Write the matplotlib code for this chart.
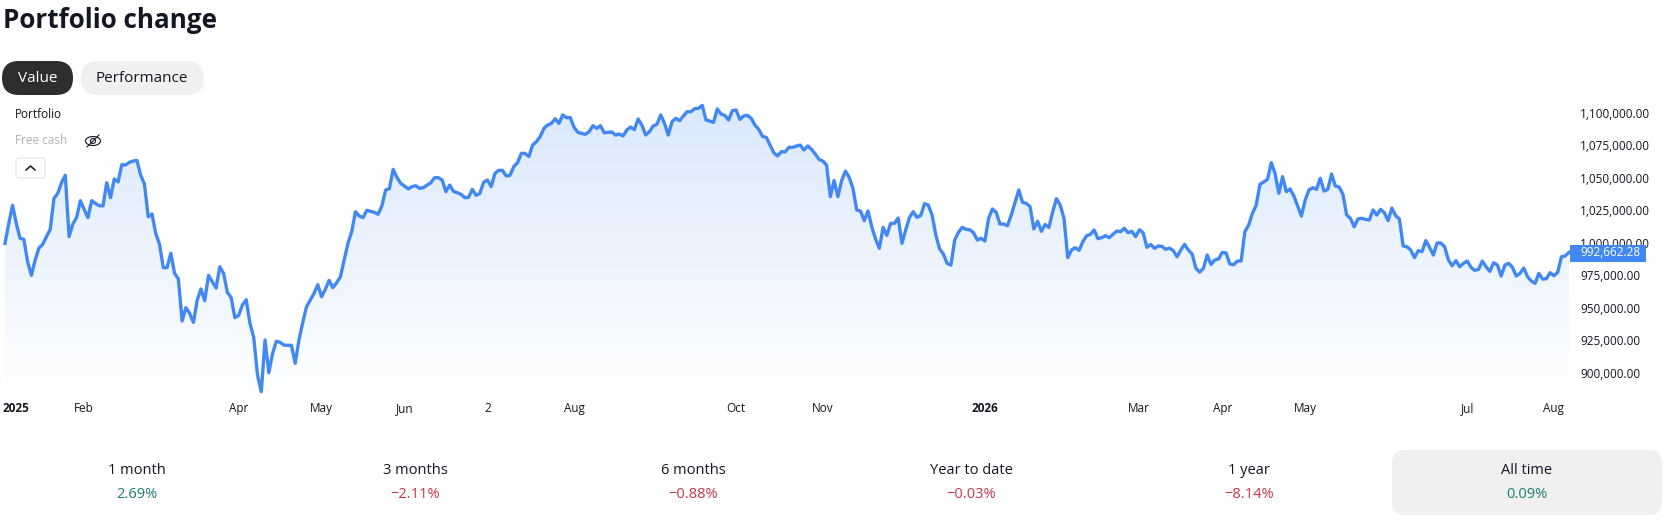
# portfolio value chart with the page bits around it
import numpy as np
import matplotlib
matplotlib.use('Agg')
import matplotlib.pyplot as plt
from matplotlib.patches import FancyBboxPatch, Ellipse

# portfolio value per bar, in thousands
portfolio_k = [
    999.6, 1015.0, 1028.9, 1015.0, 1003.5, 1002.7, 985.5, 975.0, 986.8, 996.0,
    998.9, 1004.8, 1010.4, 1034.3, 1038.1, 1046.3, 1052.0, 1004.8, 1014.5, 1019.6,
    1032.5, 1025.8, 1019.4, 1032.5, 1030.4, 1028.6, 1028.4, 1046.3, 1034.8, 1049.2,
    1046.9, 1060.2, 1059.9, 1062.0, 1063.0, 1063.5, 1052.2, 1045.3, 1020.1, 1022.2,
    1007.3, 998.9, 980.9, 980.9, 991.9, 976.5, 972.2, 939.8, 950.1, 945.7,
    938.8, 956.0, 964.5, 955.5, 975.0, 970.1, 965.2, 981.6, 976.5, 961.9,
    957.8, 942.4, 944.2, 952.1, 956.2, 938.0, 927.2, 898.2, 885.4, 925.2,
    900.0, 914.9, 924.2, 923.4, 921.3, 921.1, 921.1, 907.2, 925.2, 938.5,
    950.8, 956.0, 961.1, 967.8, 958.5, 964.2, 971.1, 965.5, 969.3, 973.9,
    986.8, 999.6, 1008.6, 1024.0, 1020.7, 1019.4, 1025.0, 1024.3, 1023.5, 1022.0,
    1028.4, 1040.7, 1041.7, 1056.6, 1050.4, 1045.8, 1043.8, 1041.5, 1043.3, 1044.0,
    1042.0, 1042.5, 1044.5, 1046.3, 1050.2, 1050.2, 1048.4, 1039.4, 1044.5, 1039.7,
    1038.6, 1037.4, 1034.8, 1035.0, 1041.2, 1036.6, 1038.1, 1046.6, 1048.4, 1043.3,
    1053.5, 1055.8, 1055.8, 1051.5, 1052.0, 1058.7, 1061.7, 1068.9, 1068.9, 1066.4,
    1075.3, 1077.9, 1081.8, 1088.2, 1090.7, 1092.0, 1095.6, 1092.0, 1098.5, 1096.4,
    1096.4, 1089.0, 1085.1, 1084.3, 1083.6, 1085.6, 1090.2, 1088.2, 1090.2, 1084.8,
    1085.1, 1085.4, 1083.0, 1083.8, 1082.3, 1086.9, 1089.2, 1087.2, 1095.4, 1090.7,
    1083.0, 1085.6, 1090.0, 1091.3, 1098.5, 1092.0, 1083.0, 1093.3, 1095.9, 1094.1,
    1097.7, 1101.0, 1101.0, 1103.3, 1103.6, 1105.9, 1094.6, 1093.8, 1092.8, 1103.1,
    1099.2, 1098.2, 1094.6, 1101.8, 1102.3, 1095.1, 1097.7, 1098.2, 1095.9, 1090.7,
    1087.4, 1082.0, 1081.2, 1075.3, 1069.4, 1066.9, 1070.2, 1070.0, 1073.5, 1073.5,
    1074.6, 1075.3, 1071.5, 1074.6, 1072.0, 1068.4, 1064.3, 1063.0, 1059.9, 1035.6,
    1047.9, 1035.6, 1047.9, 1055.3, 1050.4, 1042.0, 1025.3, 1024.5, 1017.1, 1024.5,
    1012.4, 1003.0, 995.8, 1011.9, 1005.8, 1015.0, 1015.0, 1019.1, 999.6, 1009.9,
    1019.6, 1024.0, 1019.6, 1021.2, 1030.2, 1029.1, 1021.4, 1006.0, 995.3, 991.4,
    984.2, 982.9, 1002.2, 1008.1, 1011.9, 1010.4, 1010.1, 1007.8, 1002.2, 1003.5,
    1001.4, 1018.9, 1026.1, 1023.5, 1014.5, 1014.5, 1013.2, 1021.4, 1031.2, 1040.7,
    1031.2, 1030.4, 1027.9, 1010.7, 1016.6, 1008.9, 1014.2, 1011.9, 1024.0, 1034.0,
    1029.1, 1018.9, 988.6, 994.5, 996.3, 994.2, 1000.9, 1005.5, 1006.5, 1009.9,
    1003.2, 1004.0, 1005.5, 1004.0, 1006.5, 1009.1, 1008.6, 1011.2, 1007.8, 1008.9,
    1004.8, 1010.1, 1007.8, 996.5, 998.8, 995.8, 997.6, 997.3, 995.0, 996.0,
    994.0, 989.3, 994.5, 998.8, 994.5, 991.4, 980.4, 977.5, 980.4, 990.6,
    983.4, 986.8, 987.6, 992.7, 992.2, 983.7, 983.2, 986.0, 986.0, 1008.6,
    1013.7, 1022.7, 1029.1, 1045.1, 1046.9, 1048.9, 1061.7, 1053.5, 1038.1, 1051.0,
    1039.4, 1041.5, 1036.1, 1028.4, 1020.7, 1033.0, 1040.7, 1042.5, 1041.2, 1049.7,
    1039.9, 1041.2, 1053.0, 1043.8, 1043.0, 1037.6, 1021.4, 1018.9, 1012.4, 1018.4,
    1018.9, 1018.1, 1017.6, 1025.3, 1021.4, 1025.8, 1023.2, 1017.1, 1026.8, 1020.9,
    1018.4, 997.6, 997.0, 994.5, 988.6, 994.0, 993.2, 1001.7, 996.5, 990.6,
    999.9, 999.9, 997.0, 986.8, 982.4, 986.3, 981.6, 984.2, 986.0, 981.1,
    978.8, 979.6, 986.0, 981.6, 978.1, 984.7, 982.9, 974.5, 982.9, 984.2,
    981.1, 974.5, 976.5, 980.6, 973.9, 970.6, 968.8, 976.5, 972.1, 972.4,
    977.0, 974.7, 977.3, 989.3, 989.9, 992.66,
]

x_ticks = [3, 21, 62, 84, 106, 128, 151, 194, 217, 260, 301, 323, 345, 388, 411]
x_labels = ['2025', 'Feb', 'Apr', 'May', 'Jun', '2', 'Aug', 'Oct', 'Nov', '2026',
            'Mar', 'Apr', 'May', 'Jul', 'Aug']
y_ticks = [900000, 925000, 950000, 975000, 1000000, 1025000, 1050000, 1075000, 1100000]

last_label = '992,662.28'

stat_names = ['1 month', '3 months', '6 months', 'Year to date', '1 year', 'All time']
stat_values = ['2.69%', '\u22122.11%', '\u22120.88%', '\u22120.03%', '\u22128.14%', '0.09%']

W, H = 1666, 519
BLUE = '#4288f3'
GREEN = '#1b7f72'
RED = '#c5364c'
DARK = '#131722'

plt.rcParams['font.family'] = ['Open Sans', 'DejaVu Sans']

values = np.array(portfolio_k) * 1000
bars = np.arange(len(values))

fig = plt.figure(figsize=(W / 100, H / 100), dpi=100, facecolor='white')


def px_axes(left, top, right, bottom):
    return fig.add_axes([left / W, 1 - bottom / H, (right - left) / W, (bottom - top) / H])


# main chart
ax = px_axes(5, 100, 1569, 400)
ax.patch.set_visible(False)
y_low, y_high = 879000, 1110000

# gradient under the line
grad = np.ones((256, 1, 4))
grad[:, 0, 0] = 0.855
grad[:, 0, 1] = 0.91
grad[:, 0, 2] = 0.992
mix = np.linspace(0, 1, 256)[:, None]
for c in range(3):
    grad[:, :, c] = grad[:, :, c] * (1 - mix) + mix
im = ax.imshow(grad, aspect='auto', extent=[0, len(values) - 1, y_low, y_high],
               origin='upper', zorder=1)
area = ax.fill_between(bars, values, y_low, color='none')
im.set_clip_path(area.get_paths()[0], transform=ax.transData)

ax.plot(bars, values, color=BLUE, lw=2.4, solid_joinstyle='round', zorder=2, clip_on=False)
ax.set_xlim(0, len(values) - 1)
ax.set_ylim(y_low, y_high)

for s in ax.spines.values():
    s.set_visible(False)
ax.yaxis.tick_right()
ax.set_yticks(y_ticks)
ax.set_yticklabels([f'{v:,.2f}' for v in y_ticks], fontsize=8.5, color=DARK)
ax.set_xticks(x_ticks)
ax.set_xticklabels(x_labels, fontsize=8.5, color=DARK)
for lab in ax.get_xticklabels():
    if lab.get_text() in ('2025', '2026'):
        lab.set_fontweight('bold')
ax.tick_params(axis='y', length=0, pad=8)
ax.tick_params(axis='x', length=0, pad=1.5)

# overlay in pixels for the page elements
ui = fig.add_axes([0, 0, 1, 1], facecolor='none')
ui.set_xlim(0, W)
ui.set_ylim(H, 0)
ui.axis('off')


def pill(x0, y0, x1, y1, r, color, edge='none'):
    ui.add_patch(FancyBboxPatch((x0 + r, y0 + r), x1 - x0 - 2 * r, y1 - y0 - 2 * r,
                                boxstyle=f'round,pad={r},rounding_size={r}',
                                fc=color, ec=edge, lw=0.8))


ui.text(3, 28, 'Portfolio change', fontsize=18.7, fontweight='bold', color=DARK, va='baseline')

pill(2, 61, 73, 95, 17, '#2e2e2e')
ui.text(37.5, 78, 'Value', fontsize=11, color='white', ha='center', va='center')
pill(81, 61, 204, 95, 17, '#f0f0f0')
ui.text(142, 78, 'Performance', fontsize=11, color=DARK, ha='center', va='center')

ui.text(15, 115, 'Portfolio', fontsize=8.5, color=DARK, va='center')
ui.text(15, 140, 'Free cash', fontsize=8.5, color='#b2b2b2', va='center')

# eye with a slash
ui.add_patch(Ellipse((93, 141), 15, 9, fc='none', ec=DARK, lw=0.8))
ui.add_patch(Ellipse((93, 141), 5, 5, fc='none', ec=DARK, lw=0.8))
ui.plot([87, 99], [147, 135], color=DARK, lw=0.8)

# collapse button
pill(16, 158, 45, 178, 3, 'white', '#e4e4e4')
ui.plot([26, 30.5, 35], [170, 166, 170], color=DARK, lw=1.1)

# last value tag, over the 1,000,000.00 label
ui.add_patch(plt.Rectangle((1570, 245), 76, 17, fc=BLUE, ec='none', zorder=5))
ui.text(1580, 253, last_label, fontsize=8.5, color='white', va='center', zorder=6)

# period stats
pill(1392, 450, 1662, 515, 13, '#f0f0f0')
stat_x = [137, 415, 693, 971, 1249, 1527]
for sx, name, val in zip(stat_x, stat_names, stat_values):
    ui.text(sx, 471, name, fontsize=10.5, color=DARK, ha='center', va='center')
    ui.text(sx, 495, val, fontsize=10.5, color=RED if val.startswith('\u2212') else GREEN,
            ha='center', va='center')

fig.savefig('out.png', dpi=100)
